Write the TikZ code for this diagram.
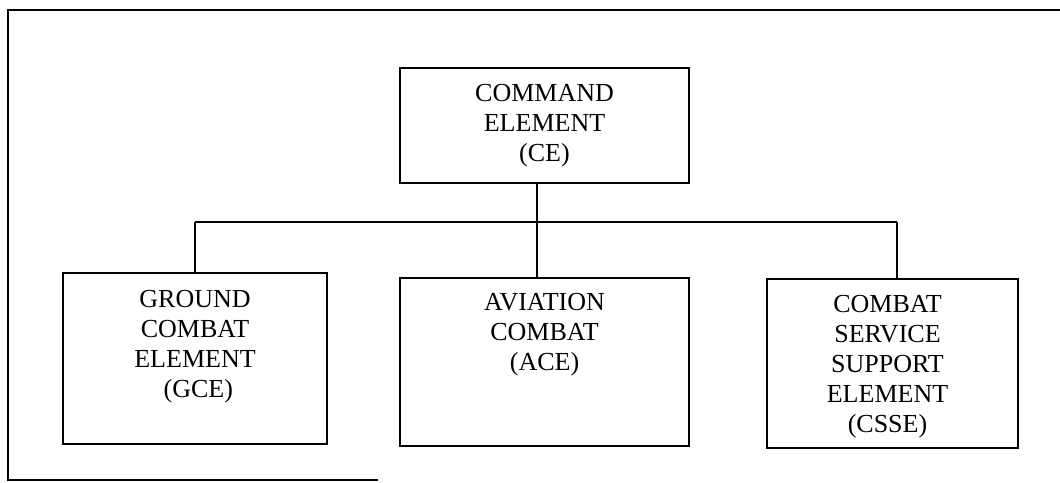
\documentclass[tikz,border=0pt]{standalone}
\usepackage{fontspec}
\setmainfont{Liberation Serif}
\usetikzlibrary{positioning}

\begin{document}
\begin{tikzpicture}[x=1pt, y=-1pt, unit/.style={draw=black, line width=2.2pt, inner sep=0pt, align=center, font=\fontsize{26}{30}\selectfont}, unittxt/.style={inner sep=0pt, align=center, font=\fontsize{26}{30}\selectfont}, link/.style={line width=1.6pt, draw=black}, frame/.style={line width=2.4pt, draw=black}
]
  \useasboundingbox (0,0) rectangle (1060,482);
  \coordinate (ftl) at (8,10);
  \coordinate (ftr) at (1060,10);
  \coordinate (fbl) at (8,480);
  \coordinate (fbr) at (378,480);
  \draw[frame] (ftr) -- (ftl) -- (fbl) -- (fbr);
  \node[unit, minimum width=289, minimum height=115] (ce) at (544.5,125.5) {COMMAND\\ELEMENT\\(CE)};
  \node[unit, minimum width=264, minimum height=171] (gce) at (195,358.5) {};
  \node[unit, minimum width=289, minimum height=168] (ace) at (544.5,362) {};
  \node[unit, minimum width=251, minimum height=169] (csse) at (892.5,363.5) {};
  \node[unittxt, below=18pt of gce.north] (gcetxt) {GROUND\\COMBAT\\ELEMENT\\\ (GCE)};
  \node[unittxt, below=16pt of ace.north] (acetxt) {AVIATION\\COMBAT\\(ACE)};
  \node[unittxt, below=17pt of csse.north, xshift=-5pt] (cssetxt) {COMBAT\\SERVICE\\SUPPORT\\ELEMENT\\(CSSE)};
  \coordinate (busl) at (195,222);
  \coordinate (busm) at (537,222);
  \coordinate (busr) at (897,222);
  \draw[link] (ce.south -| busm) -- (busm);
  \draw[link] (busl) -- (busr);
  \draw[link] (busl) -- (gce.north -| busl);
  \draw[link] (busm) -- (ace.north -| busm);
  \draw[link] (busr) -- (csse.north -| busr);
\end{tikzpicture}
\end{document}
